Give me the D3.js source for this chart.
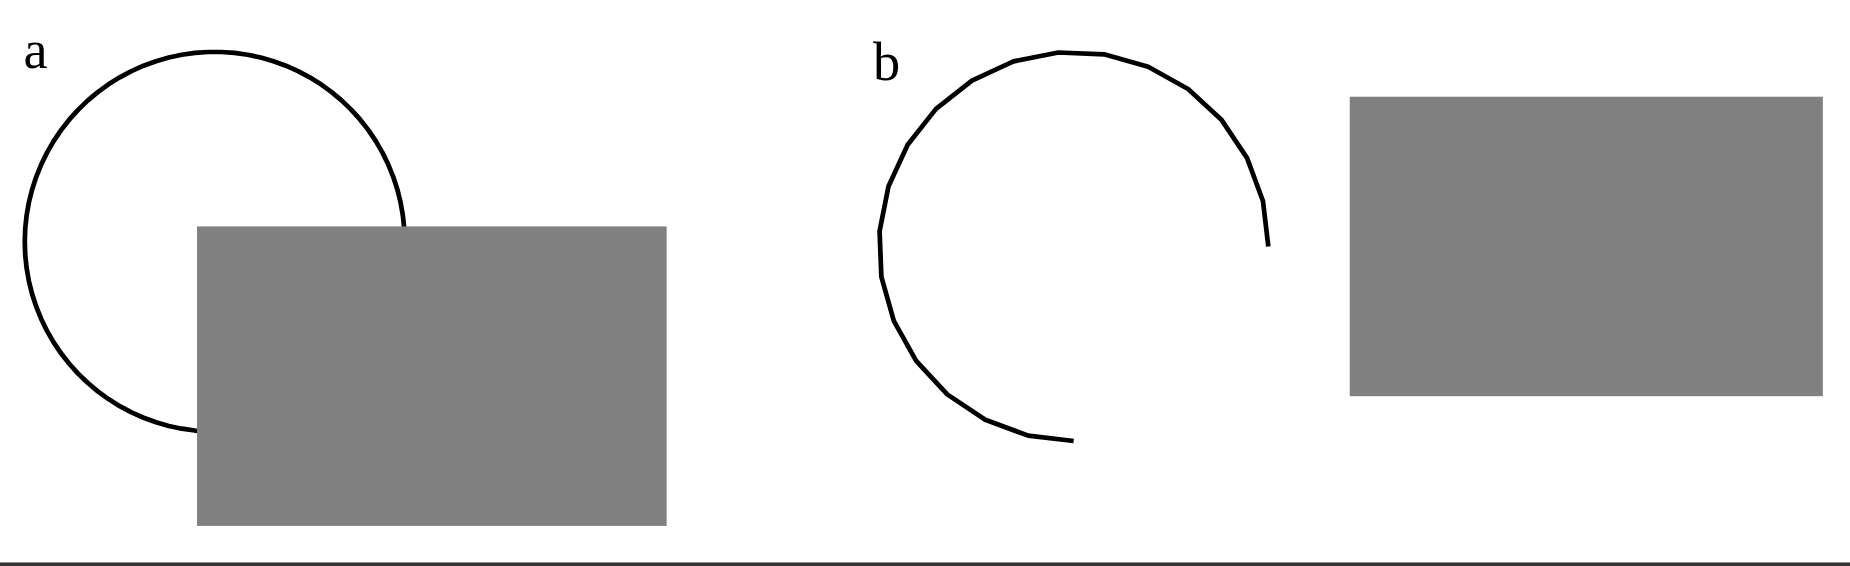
<!DOCTYPE html>
<html>
<head>
<meta charset="utf-8">
<script src="https://cdn.jsdelivr.net/npm/d3@7"></script>
<style>body{margin:0;background:#fff}svg{display:block}</style>
</head>
<body>
<script>
const W = 1850, H = 566;
// values read in reference units (1568 x 480)
const panelLabels = ['a', 'b'];
const labelPos = [[20, 58], [740, 68]];
const circleCenters = [[182, 205], [910, 209]];
const circleRadii = [161, 165];
// arc spans in degrees (0 = right, counter-clockwise upward), and segment count
const arcSpans = [[0, 360], [0, 270]];
const arcSegments = [90, 20];
const rects = [[167, 192, 565, 446], [1144, 82, 1545, 336]];

const x = d3.scaleLinear().domain([0, 1568]).range([0, W]);
const y = d3.scaleLinear().domain([0, 480]).range([0, H]);
const k = W / 1568;

const svg = d3.select('body').append('svg').attr('width', W).attr('height', H);

const line = d3.line().x(d => x(d[0])).y(d => y(d[1]));

circleCenters.forEach((c, i) => {
    const [a0, a1] = arcSpans[i];
    const n = arcSegments[i];
    const pts = d3.range(n + 1).map(j => {
        const t = (a0 + (a1 - a0) * j / n) * Math.PI / 180;
        return [c[0] + circleRadii[i] * Math.cos(t), c[1] - circleRadii[i] * Math.sin(t)];
    });
    svg.append('path')
        .attr('d', line(pts))
        .attr('fill', 'none')
        .attr('stroke', '#000')
        .attr('stroke-width', 4 * k)
        .attr('stroke-linejoin', 'round');
});

svg.selectAll('rect.box')
    .data(rects)
    .join('rect')
    .attr('class', 'box')
    .attr('x', d => x(d[0]))
    .attr('y', d => y(d[1]))
    .attr('width', d => x(d[2]) - x(d[0]))
    .attr('height', d => y(d[3]) - y(d[1]))
    .attr('fill', '#808080');

svg.selectAll('text.lbl')
    .data(panelLabels)
    .join('text')
    .attr('class', 'lbl')
    .attr('x', (d, i) => x(labelPos[i][0]))
    .attr('y', (d, i) => y(labelPos[i][1]))
    .style('font-family', '"Liberation Serif", "DejaVu Serif", serif')
    .style('font-size', `${46 * k}px`)
    .text(d => d);

svg.append('rect')
    .attr('x', 0)
    .attr('y', y(477))
    .attr('width', W)
    .attr('height', H - y(477))
    .attr('fill', '#333');
</script>
</body>
</html>
